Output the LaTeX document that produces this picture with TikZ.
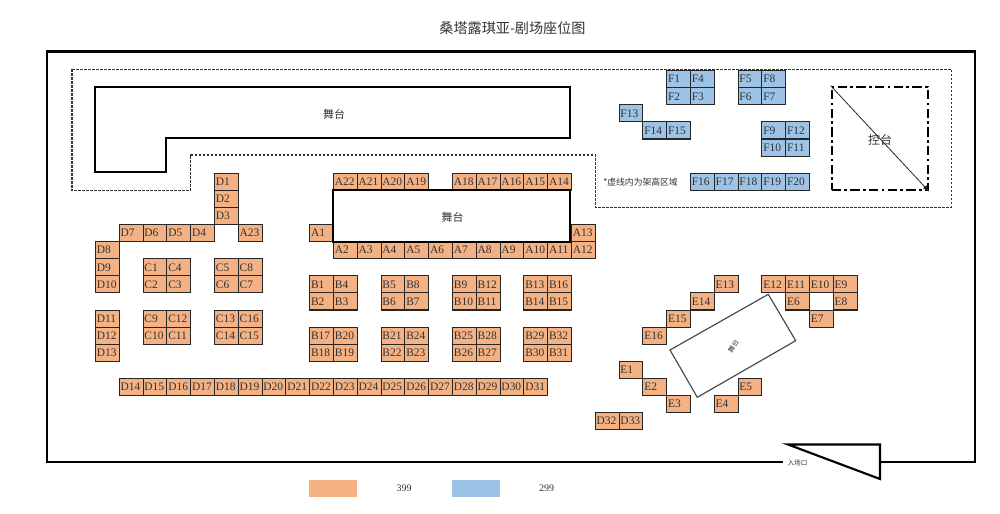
\documentclass[tikz,border=0pt]{standalone}
\usepackage{fontspec}
\setmainfont{Liberation Serif}
\newfontfamily\cjk{Noto Sans CJK SC}
\definecolor{seatorange}{HTML}{F4B183}
\definecolor{seatblue}{HTML}{9DC3E6}
\definecolor{inkgray}{HTML}{333333}
\begin{document}
\begin{tikzpicture}
[x=0.75pt,y=-0.75pt,%
  seat/.style={draw=black!85,line width=0.8pt,inner sep=0pt,inner xsep=1pt,text width=15.85pt,
    minimum width=17.85pt,minimum height=12.8pt,anchor=north west,font=\fontsize{8.6}{9}\selectfont,text=inkgray},%
  redseat/.style={seat,fill=seatorange},%
  blueseat/.style={seat,fill=seatblue},%
  wall/.style={draw=black,line width=1.6pt},%
  stagewall/.style={draw=black,line width=1.6pt},%
  raised/.style={draw=black!80,line width=0.8pt,dash pattern=on 2pt off 1pt},%
  label/.style={inner sep=0pt,text=inkgray,font=\cjk\fontsize{8.2}{9}\selectfont},%
  legendbox/.style={inner sep=0pt,minimum width=36pt,minimum height=12.6pt}]
\useasboundingbox (0,0) rectangle (1000,514);
\node[label,font=\cjk\fontsize{10.6}{12}\selectfont] (title) at (512.5,28) {桑塔露琪亚-剧场座位图};
% hall
\draw[wall] (783,462) -- (47,462) -- (47,51.5) -- (975,51.5) -- (975,462) -- (880,462);
\draw[wall] (788,444.5) -- (880,444.5) -- (880,479) -- cycle;
\node[label,font=\cjk\fontsize{5}{6}\selectfont] (entrance) at (797.5,463) {入场口};
% raised area
\draw[raised] (72,69.3) -- (951.5,69.3) -- (951.5,207.3) -- (595.4,207.3) -- (595.4,155)
  -- (190.7,155) -- (190.7,190.7) -- (72,190.7) -- cycle;
\node[label,font=\cjk\fontsize{6.6}{8}\selectfont,anchor=west] (note) at (603,181.7) {*虚线内为架高区域};
% stages
\draw[stagewall] (94.6,86.7) -- (570.4,86.7) -- (570.4,137.7) -- (166,137.7) -- (166,172.3)
  -- (94.6,172.3) -- cycle;
\node[label] (upper) at (334,114) {舞台};
% seats: name/column/row
\foreach \name/\col/\row in {A22/10/0,A21/11/0,A20/12/0,A19/13/0,A18/15/0,A17/16/0,A16/17/0,A15/18/0,A14/19/0,
  A1/9/3,A13/20/3,A23/6/3,A2/10/4,A3/11/4,A4/12/4,A5/13/4,A6/14/4,A7/15/4,A8/16/4,A9/17/4,A10/18/4,A11/19/4,A12/20/4,
  B1/9/6,B4/10/6,B2/9/7,B3/10/7,B5/12/6,B8/13/6,B6/12/7,B7/13/7,B9/15/6,B12/16/6,B10/15/7,B11/16/7,
  B13/18/6,B16/19/6,B14/18/7,B15/19/7,B17/9/9,B20/10/9,B18/9/10,B19/10/10,B21/12/9,B24/13/9,B22/12/10,B23/13/10,
  B25/15/9,B28/16/9,B26/15/10,B27/16/10,B29/18/9,B32/19/9,B30/18/10,B31/19/10,
  C1/2/5,C4/3/5,C2/2/6,C3/3/6,C5/5/5,C8/6/5,C6/5/6,C7/6/6,C9/2/8,C12/3/8,C10/2/9,C11/3/9,C13/5/8,C16/6/8,C14/5/9,C15/6/9,
  D1/5/0,D2/5/1,D3/5/2,D4/4/3,D5/3/3,D6/2/3,D7/1/3,D8/0/4,D9/0/5,D10/0/6,D11/0/8,D12/0/9,D13/0/10,
  D14/1/12,D15/2/12,D16/3/12,D17/4/12,D18/5/12,D19/6/12,D20/7/12,D21/8/12,D22/9/12,D23/10/12,D24/11/12,D25/12/12,
  D26/13/12,D27/14/12,D28/15/12,D29/16/12,D30/17/12,D31/18/12,D32/21/14,D33/22/14,
  E1/22/11,E2/23/12,E3/24/13,E4/26/13,E5/27/12,E6/29/7,E7/30/8,E8/31/7,E9/31/6,E10/30/6,E11/29/6,E12/28/6,
  E13/26/6,E14/25/7,E15/24/8,E16/23/9}
  \node[redseat] (\name) at ({95+23.8*\col},{172.7+17.1*\row}) {\name};
\foreach \name/\col/\row in {F1/24/-6,F4/25/-6,F2/24/-5,F3/25/-5,F5/27/-6,F8/28/-6,F6/27/-5,F7/28/-5,
  F13/22/-4,F14/23/-3,F15/24/-3,F9/28/-3,F12/29/-3,F10/28/-2,F11/29/-2,F16/25/0,F17/26/0,F18/27/0,F19/28/0,F20/29/0}
  \node[blueseat] (\name) at ({95+23.8*\col},{172.7+17.1*\row}) {\name};
\node[stagewall,fill=white,minimum width=178pt,minimum height=38.4pt,inner sep=0pt] (lower) at (451.7,216) {};
\node[label] (lowerlabel) at (452.5,217) {舞台};
% control desk
\node[draw=black,line width=1.8pt,dash pattern=on 7pt off 2.5pt on 2pt off 2.5pt,minimum width=72pt,minimum height=77.5pt,inner sep=0pt]
  (desk) at (879.7,138.4) {};
\draw[black!85,line width=0.6pt,-latex] (desk.north west) -- (desk.south east);
\node[label,font=\cjk\fontsize{9}{10}\selectfont] (desklabel) at (880,140) {控台};
% tilted stage
\draw[black!70,line width=0.9pt] (768.3,294.3) -- (795.7,340.7) -- (697.3,397.3) -- (670,350) -- cycle;
\node[label,font=\cjk\fontsize{5}{6}\selectfont,rotate=60] (tilted) at (733.3,346.7) {舞台};
% legend
\node[legendbox,fill=seatorange] (price1) at (333,488.3) {};
\node[label,font=\fontsize{7.5}{9}\selectfont] (price1text) at (404,488.3) {399};
\node[legendbox,fill=seatblue] (price2) at (475.7,488.3) {};
\node[label,font=\fontsize{7.5}{9}\selectfont] (price2text) at (546.7,488.3) {299};
\end{tikzpicture}
\end{document}
